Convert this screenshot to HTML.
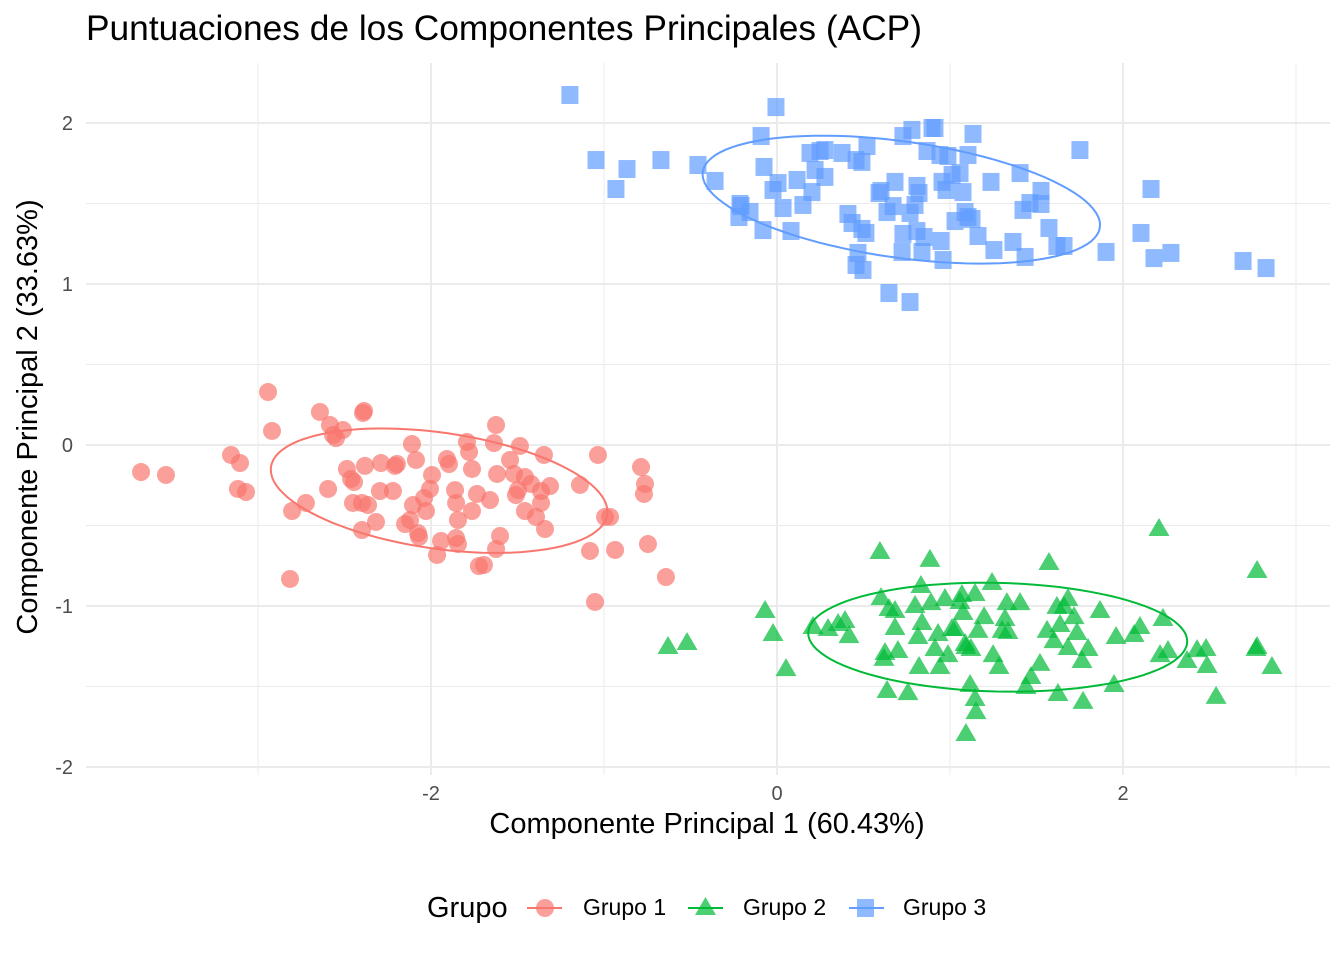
<!DOCTYPE html>
<html><head><meta charset="utf-8"><style>
body{margin:0;background:#fff;font-family:"Liberation Sans",sans-serif}
svg text{font-family:"Liberation Sans",sans-serif}
</style></head><body>
<svg id="chart" width="1344" height="960" viewBox="0 0 1344 960">
<rect width="1344" height="960" fill="#fff"/>
<g id="grid"></g><g id="ellipses"></g><g id="points"></g><g id="axes"></g>
<text x="86" y="40" font-size="35" textLength="836" lengthAdjust="spacingAndGlyphs" fill="#000">Puntuaciones de los Componentes Principales (ACP)</text>
<text x="707" y="833" font-size="29" text-anchor="middle" fill="#000">Componente Principal 1 (60.43%)</text>
<text transform="translate(37,417) rotate(-90)" font-size="29" text-anchor="middle" fill="#000">Componente Principal 2 (33.63%)</text>
<g>
<text x="427" y="917" font-size="29">Grupo</text>
<g><line x1="527" y1="908" x2="562" y2="908" stroke="#F8766D" stroke-width="2"/><circle cx="545" cy="908" r="9" fill="#F8766D" fill-opacity="0.7"/><text x="583" y="915" font-size="23">Grupo 1</text></g>
<g><line x1="688" y1="908" x2="723" y2="908" stroke="#00BA38" stroke-width="2"/><polygon points="705.5,897 716,915 695,915" fill="#00BA38" fill-opacity="0.7"/><text x="743" y="915" font-size="23">Grupo 2</text></g>
<g><line x1="849" y1="908" x2="884" y2="908" stroke="#619CFF" stroke-width="2"/><rect x="857" y="899" width="17" height="18" fill="#619CFF" fill-opacity="0.7"/><text x="903" y="915" font-size="23">Grupo 3</text></g>
</g>
</svg>
<script>
const xTicks=[-2,0,2];
const yTicks=[-2,-1,0,1,2];
const groups=["Grupo 1","Grupo 2","Grupo 3"];
const colors=["#F8766D","#00BA38","#619CFF"];
const g1px=[[141,472],[166,475],[231,455],[240,463],[238,489],[246,492],[268,392],[272,431],[292,511],[290,579],[306,503],[320,412],[328,489],[330,425],[333,435],[336,438],[343,430],[347,469],[351,479],[353,503],[354,482],[362,530],[363,413],[364,411],[362,503],[365,466],[368,505],[376,522],[380,491],[381,463],[393,491],[397,464],[395,466],[405,524],[410,520],[412,444],[416,460],[413,505],[418,533],[419,537],[424,498],[426,511],[430,489],[432,475],[437,555],[441,541],[447,459],[449,464],[455,490],[456,503],[458,520],[456,538],[458,544],[467,442],[469,452],[472,469],[472,511],[477,494],[479,566],[484,565],[490,500],[496,425],[494,443],[496,549],[500,536],[497,474],[510,460],[514,474],[516,495],[518,490],[520,446],[525,477],[525,511],[531,484],[536,517],[541,491],[545,529],[544,455],[541,503],[550,486],[580,485],[598,455],[590,551],[595,602],[605,517],[610,517],[615,550],[641,467],[645,484],[644,494],[648,544],[666,577]];
const g2px=[[668,648],[687,644],[765,612],[773,635],[786,670],[813,628],[828,630],[838,625],[845,622],[849,637],[880,553],[881,599],[887,692],[884,660],[885,654],[889,610],[895,612],[895,629],[898,652],[908,694],[915,607],[918,638],[919,668],[921,587],[922,624],[930,561],[931,604],[935,650],[938,635],[940,668],[945,600],[948,656],[952,630],[955,630],[960,603],[962,596],[963,614],[965,645],[966,648],[970,686],[971,650],[975,595],[976,713],[966,735],[975,700],[978,632],[984,618],[992,584],[993,656],[999,668],[1002,632],[1005,620],[1007,604],[1008,633],[1020,604],[1026,688],[1031,678],[1040,665],[1047,632],[1049,564],[1054,642],[1057,608],[1058,695],[1060,626],[1064,608],[1068,600],[1068,649],[1074,618],[1077,634],[1082,662],[1083,703],[1088,650],[1100,612],[1114,686],[1116,638],[1134,636],[1140,628],[1159,530],[1160,656],[1163,620],[1168,652],[1187,662],[1197,651],[1206,650],[1216,698],[1257,572],[1256,650],[1272,668],[1257,648],[1207,667]];
const g3px=[[570,95],[596,160],[616,189],[627,169],[661,160],[698,165],[715,181],[741,206],[739,217],[740,204],[750,212],[763,230],[761,136],[764,167],[773,190],[776,107],[778,183],[783,208],[791,231],[797,180],[803,205],[810,153],[812,192],[815,170],[820,151],[825,150],[825,177],[842,153],[848,214],[852,223],[856,160],[858,253],[856,265],[862,162],[863,270],[866,233],[867,146],[862,229],[879,193],[881,191],[887,212],[889,293],[893,206],[895,182],[902,252],[903,234],[903,136],[910,302],[910,213],[912,130],[915,205],[917,231],[917,186],[919,193],[922,252],[924,237],[927,151],[932,128],[935,128],[940,155],[942,182],[941,241],[943,260],[946,190],[948,156],[952,175],[955,221],[960,173],[965,212],[963,192],[968,217],[968,155],[973,134],[978,236],[972,219],[991,182],[994,250],[1013,242],[1020,173],[1023,210],[1025,257],[1030,203],[1041,204],[1041,191],[1049,228],[1057,246],[1064,246],[1080,150],[1106,252],[1141,233],[1151,189],[1154,258],[1171,253],[1243,261],[1266,268]];
const toData=a=>a.map(p=>[+((p[0]-777)/173).toFixed(3),+((445-p[1])/161).toFixed(3)]);
const pc1g1=toData(g1px).map(d=>d[0]), pc2g1=toData(g1px).map(d=>d[1]);
const pc1g2=toData(g2px).map(d=>d[0]), pc2g2=toData(g2px).map(d=>d[1]);
const pc1g3=toData(g3px).map(d=>d[0]), pc2g3=toData(g3px).map(d=>d[1]);
const X=v=>777+v*173, Y=v=>445-v*161;
const NS="http://www.w3.org/2000/svg";
function mk(tag,attrs,parent){const e=document.createElementNS(NS,tag);for(const k in attrs)e.setAttribute(k,attrs[k]);parent.appendChild(e);return e;}
const grid=document.getElementById('grid'),axes=document.getElementById('axes');
const L=86,R=1330,T=63,B=775;
[-3,-1,1,3].forEach(v=>{const l=mk('line',{x1:X(v),x2:X(v),y1:T,y2:B,stroke:'#ebebeb','stroke-width':1},grid);});
[-1.5,-0.5,0.5,1.5].forEach(v=>{const l=mk('line',{x1:L,x2:R,y1:Y(v),y2:Y(v),stroke:'#ebebeb','stroke-width':1},grid);});
xTicks.forEach(v=>{const l=mk('line',{x1:X(v),x2:X(v),y1:T,y2:B,stroke:'#ebebeb','stroke-width':2},grid);
const t=mk('text',{x:X(v),y:800,'font-size':20,'text-anchor':'middle',fill:'#4d4d4d'},axes);t.textContent=v;});
yTicks.forEach(v=>{const l=mk('line',{x1:L,x2:R,y1:Y(v),y2:Y(v),stroke:'#ebebeb','stroke-width':2},grid);
const t=mk('text',{x:73,y:Y(v)+7,'font-size':20,'text-anchor':'end',fill:'#4d4d4d'},axes);t.textContent=v;});
const series=[[pc1g1,pc2g1],[pc1g2,pc2g2],[pc1g3,pc2g3]];
const eg=document.getElementById('ellipses'),pg=document.getElementById('points');
series.forEach((s,gi)=>{
 const xs=s[0],ys=s[1],n=xs.length;
 const mx=xs.reduce((a,b)=>a+b)/n,my=ys.reduce((a,b)=>a+b)/n;
 let sxx=0,syy=0,sxy=0;for(let i=0;i<n;i++){sxx+=(xs[i]-mx)**2;syy+=(ys[i]-my)**2;sxy+=(xs[i]-mx)*(ys[i]-my);}
 sxx/=n-1;syy/=n-1;sxy/=n-1;
 const k=1.5;
 const tr=sxx+syy,det=sxx*syy-sxy*sxy,l1=tr/2+Math.sqrt(tr*tr/4-det),l2=tr/2-Math.sqrt(tr*tr/4-det);
 const ang=Math.atan2(l1-sxx,sxy);
 let d='';for(let j=0;j<=100;j++){const t=j/100*2*Math.PI;const a=k*Math.sqrt(l1)*Math.cos(t),b=k*Math.sqrt(l2)*Math.sin(t);
  const px=mx+a*Math.cos(ang)-b*Math.sin(ang),py=my+a*Math.sin(ang)+b*Math.cos(ang);d+=(j?'L':'M')+X(px).toFixed(1)+','+Y(py).toFixed(1);}
 const e=mk('path',{d:d+'Z',fill:'none',stroke:colors[gi],'stroke-width':2},eg);
 
 
 for(let i=0;i<n;i++){const cx=X(xs[i]),cy=Y(ys[i]);let m;
  if(gi===0)m=mk('circle',{cx:cx,cy:cy,r:9,fill:colors[0],'fill-opacity':0.7},pg);
  else if(gi===1)m=mk('polygon',{points:`${cx},${cy-12} ${cx+10.5},${cy+6} ${cx-10.5},${cy+6}`,fill:colors[1],'fill-opacity':0.7},pg);
  else m=mk('rect',{x:cx-8.5,y:cy-9,width:17,height:18,fill:colors[2],'fill-opacity':0.7},pg);
  
  }
});
</script>
</body></html>
